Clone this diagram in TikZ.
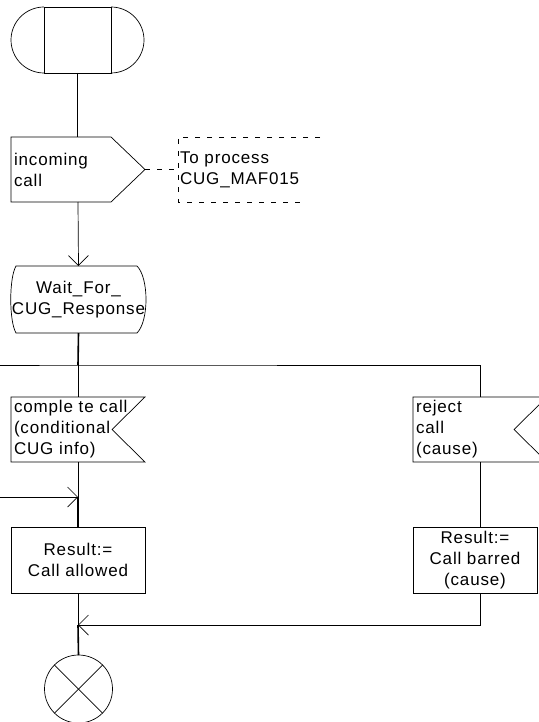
\documentclass[tikz,border=0pt]{standalone}
\usepackage{fontspec}
\setmainfont{Liberation Sans}[LetterSpace=5]
\usetikzlibrary{arrows.meta,positioning}

\tikzset{every node/.style={font=\fontsize{17}{21}\selectfont, inner sep=0, outer sep=0}}

\begin{document}
\begin{tikzpicture}[x=1pt,y=1pt,line width=0.7pt,
    flow/.style={-{Straight Barb[length=10pt,width=20pt]}},
    heavy/.style={line width=1.6pt},
    sigbox/.style={minimum width=134pt,minimum height=65pt,text width=128pt,inner xsep=3pt,align=left},
    taskbox/.style={draw,minimum height=66pt,align=center},
    notedash/.style={dash pattern=on 5pt off 7pt}]
    \useasboundingbox (0,0) rectangle (538,-722);

    % start symbol
    \node[draw,minimum width=67pt,minimum height=66pt] (start) at (77.5,-40) {};
    \draw (start.north west) arc[start angle=90,end angle=270,radius=33pt];
    \draw (start.north east) arc[start angle=90,end angle=-90,radius=33pt];

    % incoming call signal
    \node[sigbox] (incoming) at (78,-169.5) {incoming\\call};
    \draw (incoming.north west) -- ([xshift=-34pt]incoming.north east) -- (incoming.east)
        -- ([xshift=-34pt]incoming.south east) -- (incoming.south west) -- cycle;

    % comment
    \node[minimum width=142pt,minimum height=65pt,text width=138pt,inner xsep=2pt,align=left] (note) at (249,-169.5) {To process\\CUG\_MAF015};
    \draw[notedash] (note.north east) -- (note.north west) -- (note.south west) -- ([xshift=-15pt]note.south east);
    \draw[notedash] (incoming.east) -- (note.west);

    % wait state
    \node[minimum width=135pt,minimum height=67pt,align=center] (wait) at (78.5,-299.5) {Wait\_For\_\\CUG\_Response};
    \draw ([xshift=5pt]wait.north west) -- ([xshift=-9pt]wait.north east)
        .. controls ([xshift=3pt,yshift=-12pt]wait.north east) and ([xshift=3pt,yshift=12pt]wait.south east) .. ([xshift=-9pt]wait.south east)
        -- ([xshift=5pt]wait.south west)
        .. controls ([xshift=-2pt,yshift=12pt]wait.south west) and ([xshift=-2pt,yshift=-12pt]wait.north west) .. cycle;

    % received signals
    \node[sigbox] (complete) at (78,-429.5) {comple te call\\(conditional\\CUG info)};
    \draw (complete.north west) -- (complete.north east) -- ([xshift=-33pt]complete.east)
        -- (complete.south east) -- (complete.south west) -- cycle;
    \node[sigbox] (reject) at (480,-429.5) {reject\\call\\(cause)};
    \draw (reject.north west) -- (reject.north east) -- ([xshift=-33pt]reject.east)
        -- (reject.south east) -- (reject.south west) -- cycle;

    % tasks
    \node[taskbox,minimum width=134pt] (allowed) at (78,-560) {Result:=\\Call allowed};
    \node[taskbox,minimum width=124pt] (barred) at (475,-560) {Result:=\\Call barred\\(cause)};

    % stop
    \node[draw,circle,minimum size=68pt] (stop) at (78.5,-689) {};
    \draw (stop.north west) -- (stop.south east);
    \draw (stop.north east) -- (stop.south west);

    % branch and join points
    \coordinate (split) at (78,-365);
    \coordinate (lft) at (0,-365);
    \coordinate (join1) at (78,-497);
    \coordinate (in1) at (0,-497);
    \coordinate (join2) at (78,-625);

    % connectors
    \draw (start.south) -- (incoming.north -| start.south);
    \draw[flow] (incoming.south) -- (wait.north);
    \draw[heavy] (wait.south) -- (split);
    \draw (lft) -- (split) -| (reject.north);
    \draw (split) -- (complete.north);
    \draw (complete.south) -- (join1);
    \draw[flow] (in1) -- (join1);
    \draw[heavy] (join1) -- (allowed.north);
    \draw (reject.south) -- (reject.south |- barred.north);
    \draw (allowed.south) -- (join2);
    \draw[flow] (reject.south |- barred.south) |- (join2);
    \draw[heavy] (join2) -- (stop.north);
\end{tikzpicture}
\end{document}
